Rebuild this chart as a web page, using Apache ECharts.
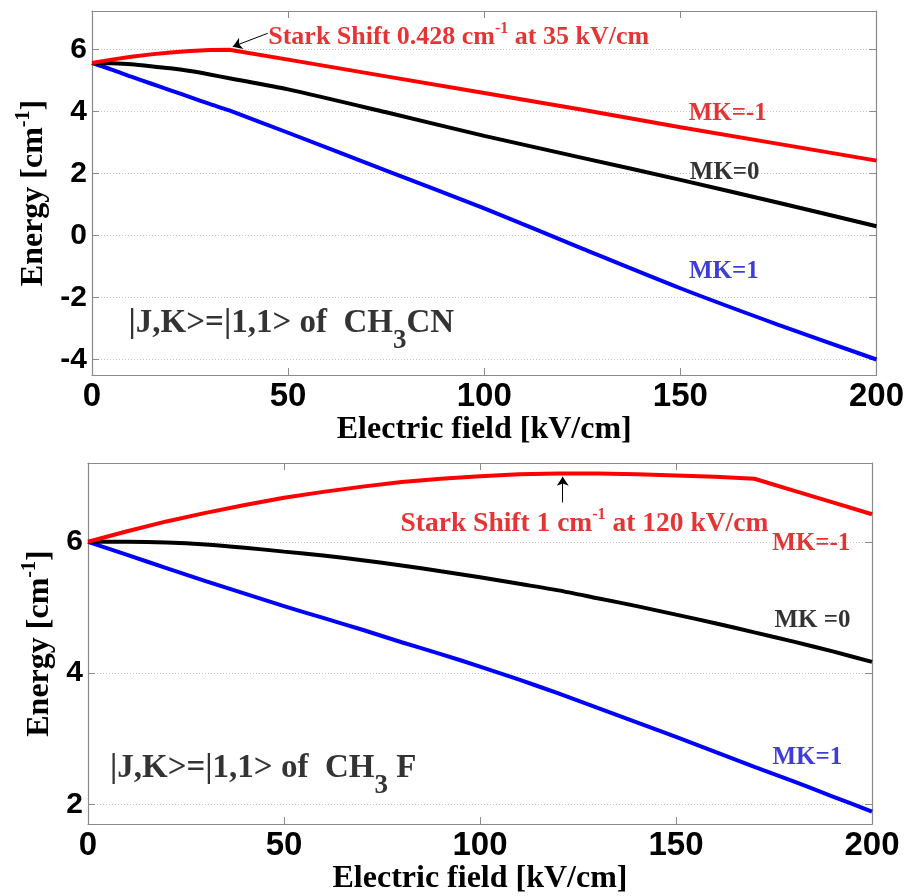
<!DOCTYPE html>
<html><head><meta charset="utf-8">
<script src="https://cdn.jsdelivr.net/npm/echarts@6/dist/echarts.min.js"></script>
<style>html,body{margin:0;padding:0;background:#fff}#c{width:907px;height:896px}</style>
</head><body><div id="c"></div>
<script>
// ---- data ----
const fieldTop = [0,5,10,15,20,25,30,35,50,75,100,125,150,175,200];
const redTop   = [5.572,5.68,5.77,5.85,5.91,5.96,5.99,6.0,5.68,5.14,4.60,4.06,3.50,2.96,2.42];
const blackTop = [5.572,5.56,5.53,5.47,5.40,5.31,5.20,5.08,4.72,3.98,3.22,2.51,1.80,1.06,0.30];
const blueTop  = [5.572,5.36,5.13,4.91,4.69,4.47,4.25,4.04,3.32,2.10,0.88,-0.42,-1.70,-2.88,-4.00];

const fieldBot = [0,10,20,30,40,50,60,70,80,90,100,110,120,130,140,150,160,170,180,190,200];
const redBot   = [6.0,6.16,6.31,6.44,6.56,6.67,6.76,6.84,6.91,6.96,7.0,7.03,7.04,7.04,7.03,7.01,6.99,6.96,6.78,6.60,6.42];
const blackBot = [6.0,6.0,5.99,5.96,5.91,5.85,5.79,5.72,5.64,5.55,5.46,5.36,5.26,5.14,5.02,4.89,4.76,4.62,4.48,4.33,4.17];
const blueBot  = [6.0,5.80,5.60,5.40,5.21,5.02,4.84,4.66,4.47,4.29,4.10,3.90,3.69,3.47,3.25,3.03,2.80,2.57,2.35,2.12,1.89];

const xRange = [0, 200];
const yRangeTop = [-4.5, 7.25];
const yRangeBot = [1.7, 7.2];
const xStep = 50;
const yStep = 2;

const xName = 'Electric field [kV/cm]';
const yNameRich = '{n|Energy [cm}{s|-1}{n|]}';
const labelsTop = {mkm1:'MK=-1', mk0:'MK=0', mk1:'MK=1'};
const labelsBot = {mkm1:'MK=-1', mk0:'MK =0', mk1:'MK=1'};

// ---- styles ----
const RED = '#ff0000', BLACK = '#000000', BLUE = '#0000ff';
const RED_T = '#e00000', BLUE_T = '#0c0cd0';
const SERIF = '"Liberation Serif", "Times New Roman", serif';
const SANS = '"Liberation Sans", Arial, sans-serif';
const BOX = '#8a8a8a';

function zip(xs, ys){ return xs.map((x,i)=>[x, ys[i]]); }

const grids = [
  {left: 92, top: 11, width: 786, height: 364},
  {left: 88, top: 463, width: 784, height: 363}
];

const lineCommon = {onZero:false, lineStyle:{color: BOX, width:1.2}};

function mainX(gi, gap){
  return {
    gridIndex: gi, type:'value', min: xRange[0], max: xRange[1], interval: xStep,
    name: xName, nameLocation:'middle', nameGap: gap,
    nameTextStyle:{fontFamily: SERIF, fontWeight:'bold', fontSize: 32, color:'#000'},
    axisLine: lineCommon,
    axisTick:{inside:true, length:7, lineStyle:{color: BOX}},
    axisLabel:{fontFamily: SANS, fontWeight:'bold', fontSize: 33, color:'#000', margin: 5},
    splitLine:{show:false}
  };
}
function topX(gi){
  return {
    gridIndex: gi, type:'value', position:'top', min: xRange[0], max: xRange[1], interval: xStep,
    axisLine: lineCommon,
    axisTick:{inside:true, length:7, lineStyle:{color: BOX}},
    axisLabel:{show:false}, splitLine:{show:false}
  };
}
function mainY(gi, range, gap){
  return {
    gridIndex: gi, type:'value', min: range[0], max: range[1], minInterval: yStep, maxInterval: yStep,
    name: yNameRich, nameLocation:'middle', nameGap: gap,
    nameTextStyle:{
      rich:{
        n:{fontFamily: SERIF, fontWeight:'bold', fontSize: 32, color:'#000', lineHeight: 40},
        s:{fontFamily: SERIF, fontWeight:'bold', fontSize: 20, color:'#000', padding:[0,0,20,0]}
      }
    },
    axisLine: Object.assign({show:true}, lineCommon),
    axisTick:{show:true, inside:true, length:7, lineStyle:{color: BOX}},
    axisLabel:{fontFamily: SANS, fontWeight:'bold', fontSize: 30, color:'#000', margin: 5,
               showMinLabel:false, showMaxLabel:false},
    splitLine:{show:true, lineStyle:{color:'#c4c4c4', type:[1,2], width:1}}
  };
}
function rightY(gi, range){
  return {
    gridIndex: gi, type:'value', position:'right', min: range[0], max: range[1], minInterval: yStep, maxInterval: yStep,
    axisLine: Object.assign({show:true}, lineCommon),
    axisTick:{show:true, inside:true, length:7, lineStyle:{color: BOX}},
    axisLabel:{show:false}, splitLine:{show:false}
  };
}

function lineSeries(xi, yi, xs, ys, color, smooth){
  return {type:'line', xAxisIndex: xi, yAxisIndex: yi, data: zip(xs, ys), showSymbol:false,
          symbol:'none', smooth: smooth || false,
          lineStyle:{color, width:4}, silent:true, z:3};
}

function txt(pos, text, color, size){
  return {
    value: pos,
    label:{show:true, position:'inside', formatter: text,
           fontFamily: SERIF, fontWeight:'bold', fontSize: size, color}
  };
}
function richTxt(pos, fmt, rich){
  return {value: pos, label:{show:true, position:'right', distance:0, formatter: fmt, rich}};
}
function supRich(color, base, sup, lift, lh){
  return {
    r:{fontFamily: SERIF, fontWeight:'bold', fontSize: base, color, lineHeight: lh},
    s:{fontFamily: SERIF, fontWeight:'bold', fontSize: sup, color, padding:[0,0,lift,0]}
  };
}
function subRich(base, sub, drop){
  return {
    m:{fontFamily: SERIF, fontWeight:'bold', fontSize: base, color:'#000'},
    b:{fontFamily: SERIF, fontWeight:'bold', fontSize: sub, color:'#000', padding:[drop,0,0,0]}
  };
}

function annSeries(xi, yi, items){
  return {
    type:'scatter', xAxisIndex: xi, yAxisIndex: yi, symbol:'circle', symbolSize:1,
    itemStyle:{color:'rgba(0,0,0,0)'}, silent:true, z:5, data: items
  };
}
function arrowSeries(xi, yi, arrows){
  return {
    type:'line', xAxisIndex: xi, yAxisIndex: yi, data: [], color:'#000', silent:true, z:6,
    itemStyle:{color:'#000'}, lineStyle:{color:'#000'},
    markLine:{
      silent:true, symbol:['none','arrow'], symbolSize:9, symbolOffset:[0,0],
      itemStyle:{color:'#000'},
      lineStyle:{color:'#000', width:1, type:'solid'}, label:{show:false},
      data: arrows.map(a => [{coord:a[0]},{coord:a[1]}])
    }
  };
}

const option = {
  animation:false,
  backgroundColor:'#fff',
  grid: grids,
  xAxis:[mainX(0, 36), topX(0), mainX(1, 30), topX(1)],
  yAxis:[mainY(0, yRangeTop, 25), rightY(0, yRangeTop), mainY(1, yRangeBot, 25), rightY(1, yRangeBot)],
  series:[
    lineSeries(0,0, fieldTop, blueTop, BLUE, 0.25),
    lineSeries(0,0, fieldTop, blackTop, BLACK, 0.25),
    lineSeries(0,0, fieldTop, redTop, RED),
    lineSeries(2,2, fieldBot, blueBot, BLUE, 0.25),
    lineSeries(2,2, fieldBot, blackBot, BLACK, 0.25),
    lineSeries(2,2, fieldBot, redBot, RED),
    annSeries(0,0, [
      richTxt([44.8, 6.39], '{r|Stark Shift 0.428 cm}{s|-1}{r| at 35 kV/cm}', supRich(RED_T, 26, 16, 17, 34)),
      txt([162.1, 3.95], labelsTop.mkm1, RED_T, 25),
      txt([161.3, 2.02], labelsTop.mk0, '#000', 25),
      txt([161.1, -1.17], labelsTop.mk1, BLUE_T, 25),
      richTxt([9.2, -2.84], '{m||J,K>=|1,1> of  CH}{b|3}{m|CN}', subRich(33, 27, 34))
    ]),
    arrowSeries(0,0, [[[44.8, 6.53],[35.9, 6.1]]]),
    annSeries(2,2, [
      richTxt([79.6, 6.28], '{r|Stark Shift 1 cm}{s|-1}{r| at 120 kV/cm}', supRich(RED_T, 27.5, 16, 17, 34)),
      txt([184.5, 5.98], labelsBot.mkm1, RED_T, 25),
      txt([184.8, 4.80], labelsBot.mk0, '#000', 25),
      txt([183.5, 2.72], labelsBot.mk1, BLUE_T, 25),
      richTxt([5.5, 2.54], '{m||J,K>=|1,1> of  CH}{b|3}{m| F}', subRich(33, 27, 34))
    ]),
    arrowSeries(2,2, [[[121.1, 6.6],[121.1, 6.99]]])
  ]
};

const chart = echarts.init(document.getElementById('c'), null, {renderer:'canvas'});
chart.setOption(option);
</script>
</body></html>
